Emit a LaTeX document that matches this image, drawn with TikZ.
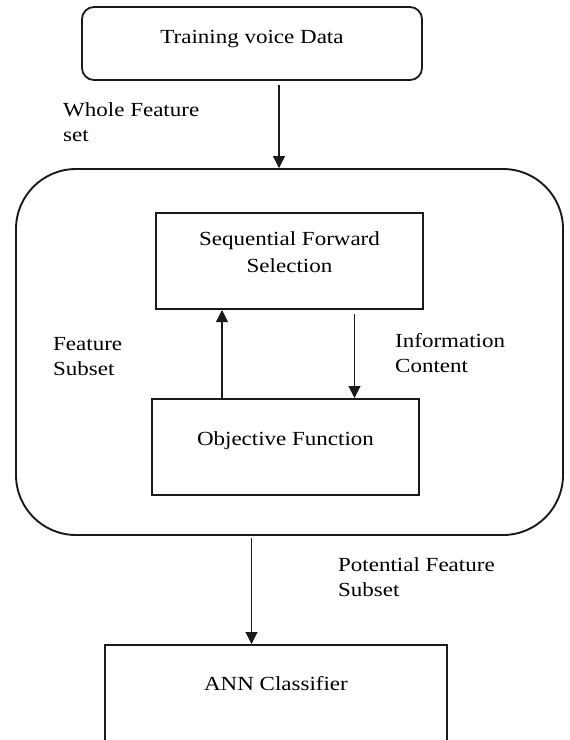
\documentclass[tikz,border=0pt]{standalone}
\usepackage{fontspec}
\setmainfont{Liberation Serif}[FakeStretch=1.15]
\usepackage{xcolor}
\definecolor{mainDark}{HTML}{1A1A1A}
\usetikzlibrary{positioning,calc,arrows.meta}
\tikzset{
  roundBox/.style={
    rectangle,
    rounded corners=12pt,
    draw=mainDark,
    line width=1.8pt,
    align=center,
    font=\fontsize{20}{27}\selectfont,
    text height=14pt
 },
  plainBox/.style={
    rectangle,
    draw=mainDark,
    line width=2pt,
    align=center,
    font=\fontsize{20}{27}\selectfont,
    text height=14pt
 },
  groupBox/.style={
    rectangle,
    rounded corners=60pt,
    draw=mainDark,
    line width=1.9pt
 },
  flowLabel/.style={
    anchor=base west,
    inner sep=0pt,
    align=left,
    font=\fontsize{20}{25}\selectfont
 },
  arrowLine/.style={
    -{Triangle[length=12pt,width=12pt]},
    line width=1.1pt,
    color=mainDark
 }
}

\begin{document}
\begin{tikzpicture}[x=1pt,y=-1pt]
            \useasboundingbox (0,0) rectangle (570,740);
            \clip (0,0) rectangle (570,740);
            \node[roundBox, minimum width=340pt, minimum height=73pt, text depth=15pt] (train) at (252,43.5) {Training voice Data};
            \node[groupBox, minimum width=547pt, minimum height=366pt] (group) at (289.5,352) {};
            \node[plainBox, minimum width=267pt, minimum height=96pt, text height=41pt, text depth=19pt] (sfs) at (289.5,261) {Sequential Forward\\Selection};
            \node[plainBox, minimum width=267pt, minimum height=96pt, text depth=18pt] (objective) at (285.5,447) {Objective Function};
            \node[plainBox, minimum width=342pt, minimum height=105pt, text depth=29pt] (ann) at (276,697.5) {ANN Classifier};

            % labels beside the arrows (base = last line)
            \node[flowLabel] (wholeSet) at (63,141) {Whole Feature\\set};
            \node[flowLabel] (subsetLabel) at (53,375) {Feature\\Subset};
            \node[flowLabel] (infoLabel) at (395,372) {Information\\Content};
            \node[flowLabel] (potentialLabel) at (338,596) {Potential Feature\\Subset};

            \draw[arrowLine, shorten <=4pt] ([xshift=27pt]train.south) -- ([xshift=27pt]train.south |- group.north);
            \draw[arrowLine] ([xshift=-63.5pt]objective.north) -- ([xshift=-63.5pt]objective.north |- sfs.south);
            \draw[arrowLine, shorten <=4pt] ([xshift=65pt]sfs.south) -- ([xshift=65pt]sfs.south |- objective.north);
            \draw[arrowLine, shorten <=2pt] ([xshift=-38pt]group.south) -- ([xshift=-38pt]group.south |- ann.north);
        \end{tikzpicture}
\end{document}
